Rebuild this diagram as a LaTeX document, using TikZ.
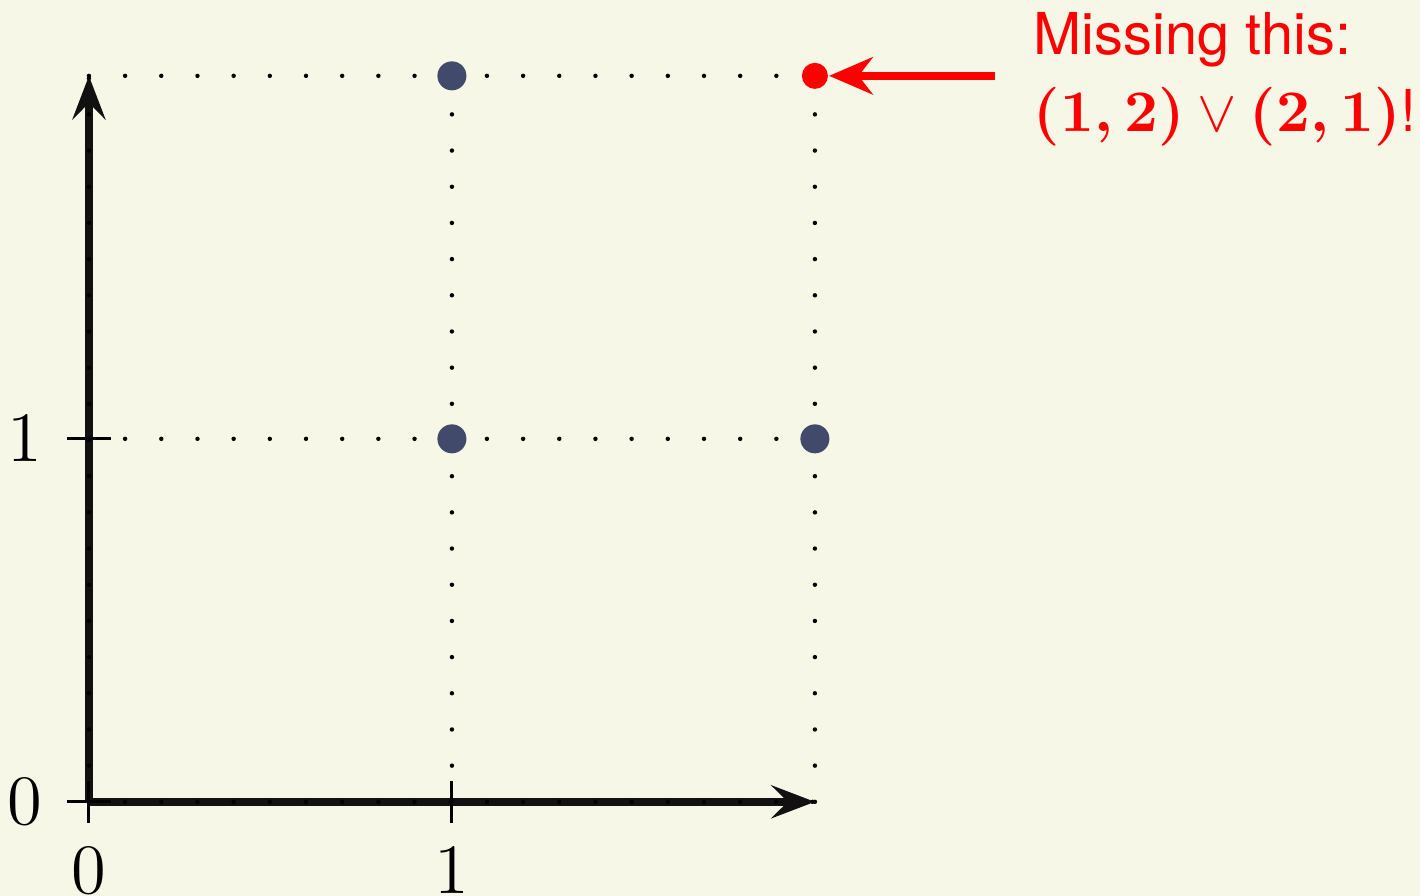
\documentclass[tikz,border=0pt]{standalone}
\usepackage{amsmath}
\usepackage{fontspec}
\setsansfont{TeX Gyre Heros}
\usepackage{xcolor}
\usetikzlibrary{arrows.meta}

\definecolor{paper}{HTML}{F7F7E8}
\definecolor{dotblue}{HTML}{414A6B}
\definecolor{axisblack}{HTML}{111111}

\begin{document}
\begin{tikzpicture}[
    x=2.165cm, y=2.165cm,
    axis/.style={
        draw=axisblack, line width=1.3pt,
        -{Stealth[length=7.4pt, width=5.6pt, inset=2.8pt]}
    },
    tick/.style={line width=0.5pt},
    dotgrid/.style={line width=0.75pt, line cap=round, dash pattern=on 0pt off 6.14pt},
    pt/.style={circle, fill=dotblue, inner sep=0pt, minimum size=0.173cm},
    misspt/.style={circle, fill=red, inner sep=0pt, minimum size=0.155cm},
    ticklabel/.style={font=\large},
    note/.style={text=red, font=\fontsize{9.8pt}{11.8pt}\selectfont\sffamily,
        inner sep=0pt, anchor=base west},
    pointer/.style={
        draw=red, line width=1.4pt,
        -{Stealth[length=7.4pt, width=6.3pt, inset=2.4pt]}
    }
]
% background and page size
\fill[paper] (-0.245,-0.259) rectangle (3.667,2.209);
\useasboundingbox (-0.245,-0.259) rectangle (3.667,2.209);

% axes
\coordinate (origin) at (0,0);
\coordinate (xend) at (2,0);
\coordinate (yend) at (0,2);
\draw[axis] (origin) -- (xend);
\draw[axis] (origin) -- (yend);

% ticks and their labels
\foreach \i in {0,1} {
    \draw[tick] (\i,-0.057) -- (\i,0.057);
    \draw[tick] (-0.06,\i) -- (0.06,\i);
    \node[ticklabel] (xl\i) at (\i,-0.19) {$\i$};
    \node[ticklabel] (yl\i) at (-0.176,\i) {$\i$};
}

% dotted grid
\foreach \i in {0,1,2} {
    \draw[dotgrid] (\i,0) -- (\i,2);
    \draw[dotgrid] (0,\i) -- (2,\i);
}

% points
\node[pt] (p11) at (1,1) {};
\node[pt] (p21) at (2,1) {};
\node[pt] (p12) at (1,2) {};
\node[misspt] (p22) at (2,2) {};

% note
\node[note] (miss) at (2.6,2.058) {Missing this:};
\node[note] (which) at (2.6,1.848) {$\boldsymbol{(1,2)}\vee\boldsymbol{(2,1)}$!};
\coordinate (tail) at (2.496,2);
\draw[pointer] (tail) -- (p22);

\end{tikzpicture}
\end{document}
